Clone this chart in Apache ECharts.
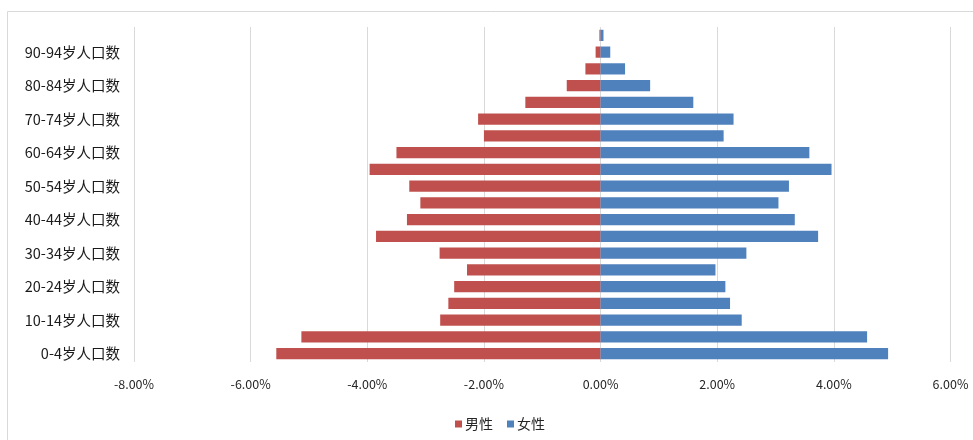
<!DOCTYPE html>
<html>
<head>
<meta charset="utf-8">
<script src="https://cdn.jsdelivr.net/npm/echarts@6/dist/echarts.min.js"></script>
<style>
  html, body { margin: 0; padding: 0; background: #fff; }
  #chart { width: 973px; height: 440px; }
</style>
</head>
<body>
<div id="chart"></div>
<script>
// Age groups, bottom to top
const ageGroups = [
  '0-4岁人口数', '5-9岁人口数', '10-14岁人口数', '15-19岁人口数',
  '20-24岁人口数', '25-29岁人口数', '30-34岁人口数', '35-39岁人口数',
  '40-44岁人口数', '45-49岁人口数', '50-54岁人口数', '55-59岁人口数',
  '60-64岁人口数', '65-69岁人口数', '70-74岁人口数', '75-79岁人口数',
  '80-84岁人口数', '85-89岁人口数', '90-94岁人口数', '95-99岁人口数'
];

// Share of total population (%), males plotted to the left
const maleShare = [
  -5.56, -5.13, -2.75, -2.61, -2.51, -2.29, -2.76, -3.85, -3.32, -3.09,
  -3.28, -3.96, -3.50, -2.00, -2.10, -1.29, -0.58, -0.26, -0.085, -0.02
];
const femaleShare = [
  4.93, 4.57, 2.42, 2.22, 2.14, 1.97, 2.50, 3.73, 3.33, 3.05,
  3.23, 3.96, 3.58, 2.11, 2.28, 1.59, 0.85, 0.42, 0.166, 0.05
];

const seriesNames = ['男性', '女性'];
const seriesColors = ['#C0504D', '#4F81BD'];

const textFont = '"Noto Sans CJK SC", "Noto Sans", sans-serif';

const chart = echarts.init(document.getElementById('chart'), null, { renderer: 'canvas' });

chart.setOption({
  backgroundColor: '#ffffff',
  animation: false,
  graphic: [{
    type: 'rect',
    shape: { x: 7.5, y: 11.5, width: 1000, height: 500 },
    style: { fill: 'none', stroke: '#d9d9d9', lineWidth: 1 },
    silent: true
  }],
  grid: { left: 134, right: 22.5, top: 27, bottom: 78, containLabel: false },
  legend: {
    left: 450,
    top: 412,
    itemWidth: 7,
    itemHeight: 7,
    itemGap: 14,
    icon: 'rect',
    textStyle: { fontFamily: textFont, fontSize: 14, color: '#262626', padding: [0, 0, 0, -2] },
    data: seriesNames
  },
  xAxis: {
    type: 'value',
    min: -8,
    max: 6,
    interval: 2,
    axisLine: { show: false },
    axisTick: { show: false },
    splitLine: { show: true, lineStyle: { color: '#d9d9d9', width: 1 } },
    axisLabel: {
      margin: 16,
      fontFamily: textFont,
      fontSize: 12.5,
      color: '#262626',
      formatter: v => v.toFixed(2) + '%'
    }
  },
  yAxis: {
    type: 'category',
    data: ageGroups,
    axisLine: { show: false, onZero: false },
    axisTick: { show: false },
    splitLine: { show: false },
    axisLabel: {
      interval: 1,
      margin: 14,
      fontFamily: textFont,
      fontSize: 14.5,
      color: '#1a1a1a'
    }
  },
  series: [
    {
      name: seriesNames[0],
      type: 'bar',
      data: maleShare,
      barWidth: '67%',
      barGap: '-100%',
      itemStyle: { color: seriesColors[0] }
    },
    {
      name: seriesNames[1],
      type: 'bar',
      data: femaleShare,
      barWidth: '67%',
      barGap: '-100%',
      itemStyle: { color: seriesColors[1] }
    }
  ]
});
</script>
</body>
</html>
